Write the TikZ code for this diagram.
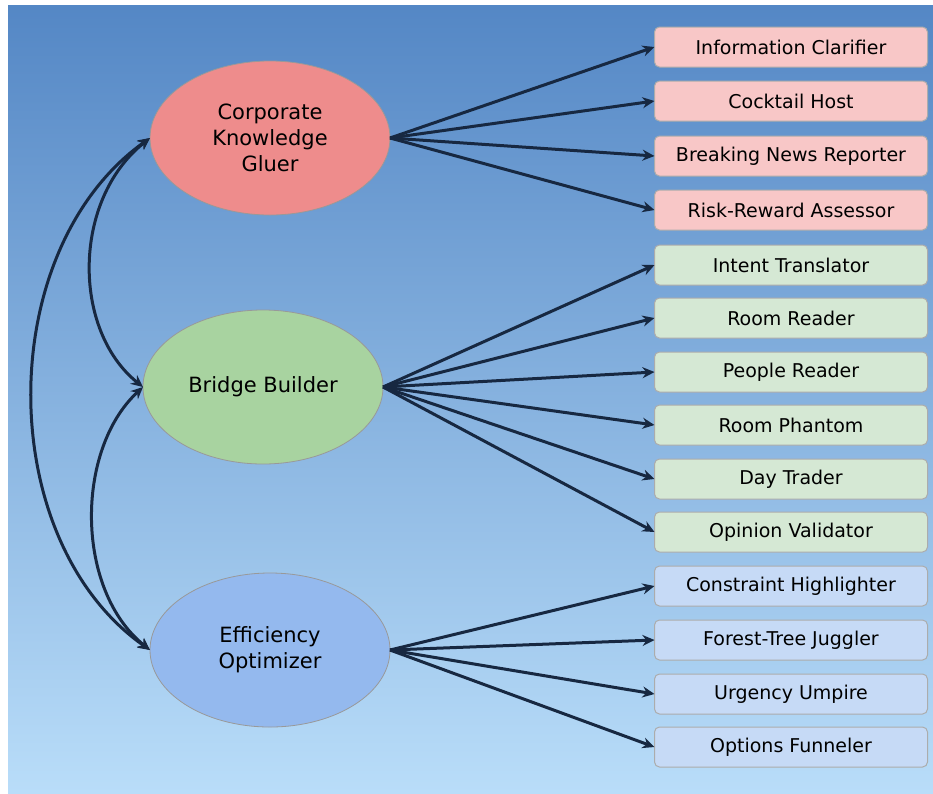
\documentclass[tikz,border=0pt]{standalone}
\usepackage{fontspec}
\setmainfont{DejaVu Sans}
\usetikzlibrary{positioning,shapes.geometric,arrows.meta}

\definecolor{bgtop}{HTML}{5487C5}
\definecolor{bgbot}{HTML}{B9DDF9}
\definecolor{arrowc}{HTML}{172841}
\definecolor{ckgfill}{HTML}{EE8C8C}
\definecolor{bbfill}{HTML}{A8D3A0}
\definecolor{eofill}{HTML}{94B9EE}
\definecolor{redbox}{HTML}{F8C7C7}
\definecolor{greenbox}{HTML}{D5E8D4}
\definecolor{bluebox}{HTML}{C6DAF6}

\begin{document}
\begin{tikzpicture}[x=1pt,y=-1pt,
  role/.style={ellipse,draw=gray!80,line width=0.8pt,minimum width=240pt,minimum height=154pt,
    inner sep=0pt,outer sep=0pt,align=center,font=\fontsize{21}{26}\selectfont},
  task/.style={rectangle,rounded corners=5pt,draw=gray!65,line width=1pt,minimum width=273pt,
    minimum height=40pt,inner sep=0pt,outer sep=0pt,font=\fontsize{19}{22}\selectfont},
  link/.style={-{Stealth[length=12pt,width=11pt]},line width=3pt,draw=arrowc},
  dlink/.style={{Stealth[length=12pt,width=11pt]}-{Stealth[length=12pt,width=11pt]},line width=3pt,draw=arrowc}]
\useasboundingbox (0,0) rectangle (933,793);
\shade[top color=bgtop,bottom color=bgbot] (8,5) rectangle (933,793);

% roles
\node[role,fill=ckgfill] (ckg) at (270,138) {Corporate\\Knowledge\\Gluer};
\node[role,fill=bbfill] (bb) at (263,387) {Bridge Builder};
\node[role,fill=eofill] (eo) at (270,650) {Efficiency\\Optimizer};

% tasks
\foreach \n/\t/\y in {ic/Information Clarifier/47, ch/Cocktail Host/101,
    bnr/Breaking News Reporter/156, rra/Risk-Reward Assessor/210}
  \node[task,fill=redbox] (\n) at (791,\y) {\t};
\foreach \n/\t/\y in {it/Intent Translator/265, rr/Room Reader/318, pr/People Reader/372,
    rp/Room Phantom/425, dt/Day Trader/479, ov/Opinion Validator/532}
  \node[task,fill=greenbox] (\n) at (791,\y) {\t};
\foreach \n/\t/\y in {chl/Constraint Highlighter/586, ftj/Forest-Tree Juggler/640,
    uu/Urgency Umpire/694, of/Options Funneler/747}
  \node[task,fill=bluebox] (\n) at (791,\y) {\t};

% fans
\foreach \n in {ic,ch,bnr,rra} \draw[link] (ckg.east) -- (\n.west);
\foreach \n in {it,rr,pr,rp,dt,ov} \draw[link] (bb.east) -- (\n.west);
\foreach \n in {chl,ftj,uu,of} \draw[link] (eo.east) -- (\n.west);

% left arcs
\draw[dlink] (ckg.west) .. controls (-7,250) and (-7,540) .. (eo.west);
\draw[dlink] (ckg.west) .. controls (72,200) and (72,330) .. (bb.west);
\draw[dlink] (bb.west) .. controls (75,450) and (75,590) .. (eo.west);
\end{tikzpicture}
\end{document}
